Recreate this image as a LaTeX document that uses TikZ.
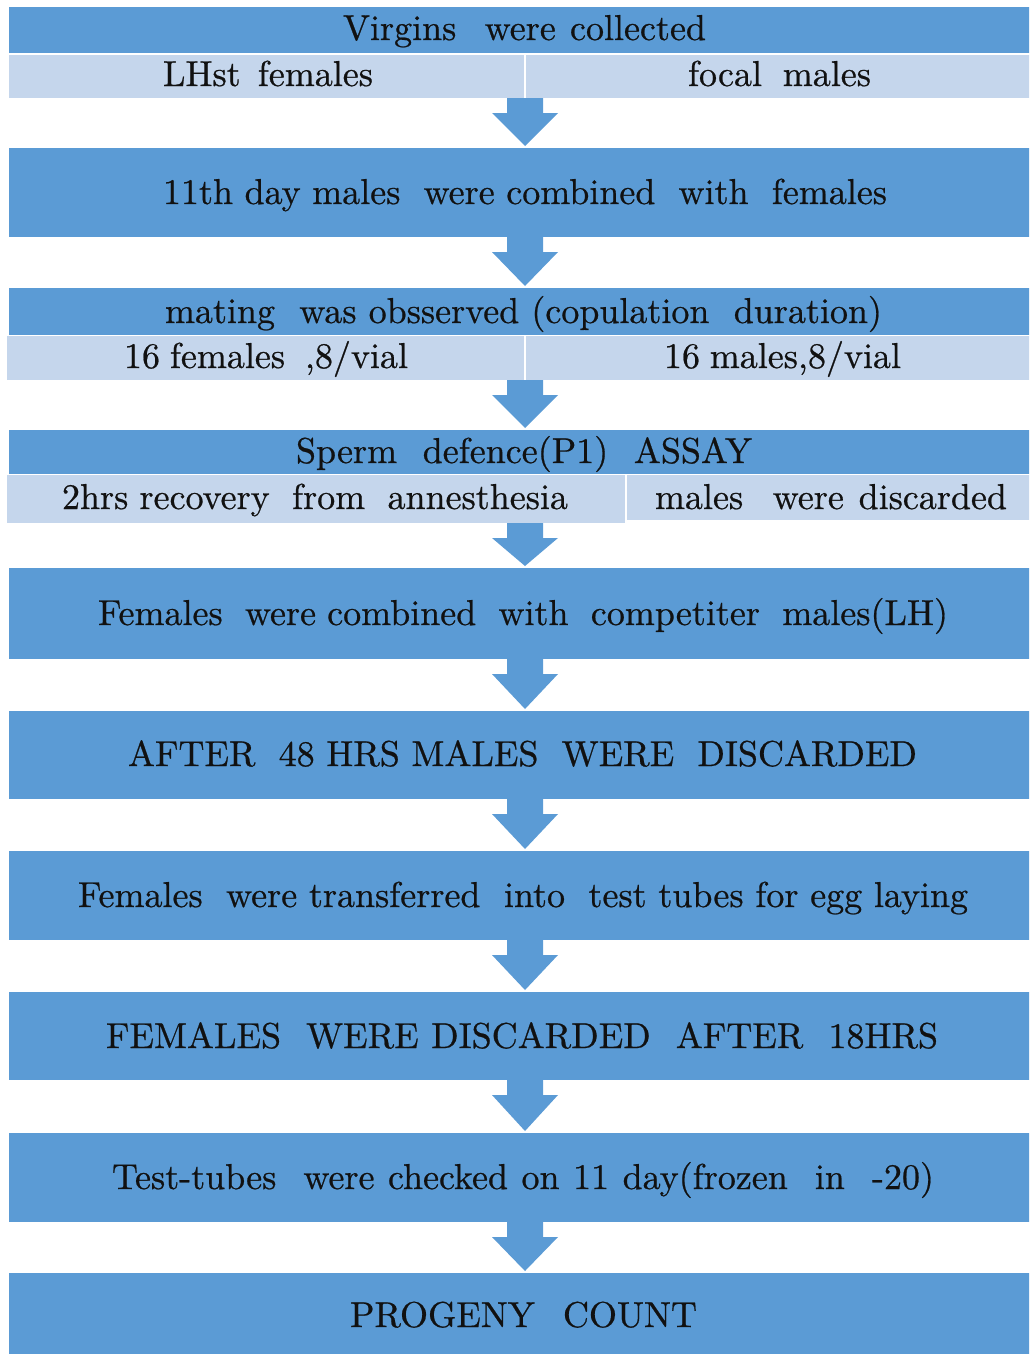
\documentclass[tikz,border=0pt]{standalone}
\usepackage{fontspec}
\newfontfamily\serifx{lmroman10-regular.otf}[FakeBold=0.6]
\usetikzlibrary{calc}
\definecolor{barblue}{RGB}{91,155,213}
\definecolor{rowblue}{RGB}{197,214,236}
\definecolor{txtcol}{RGB}{17,17,17}
\newcommand{\fitw}[2]{\makebox[#1pt][s]{#2}}
\newcommand{\flowarrow}[2]{%
  \fill[barblue] let \p1=(#1.south), \p2=(#2.north) in
    (\x2-18pt,\y1) -- (\x2+18pt,\y1) -- (\x2+18pt,\y1-15pt) -- (\x2+33pt,\y1-15pt)
    -- (\x2,\y2+2pt) -- (\x2-33pt,\y1-15pt) -- (\x2-18pt,\y1-15pt) -- cycle;}
\begin{document}
\begin{tikzpicture}[x=1pt,y=-1pt,
  bar/.style={fill=barblue, draw=none, inner sep=0pt, outer sep=0pt, anchor=north west, minimum width=1032pt, minimum height=#1pt},
  cell/.style={fill=rowblue, draw=none, inner sep=0pt, outer sep=0pt, anchor=north west},
  txt/.style={anchor=base, inner sep=0pt, outer sep=0pt, text=txtcol, font=\serifx\fontsize{36}{44}\selectfont}]
\useasboundingbox (0,0) rectangle (1029,1354);
\clip (0,0) rectangle (1029,1354);
% bars and cells
\node[bar=46] (b1) at (9,7) {};
\node[cell, minimum width=515pt, minimum height=43pt] (l1a) at (9,55) {};
\node[cell, minimum width=515pt, minimum height=43pt] (l1b) at (526,55) {};
\node[bar=89] (b2) at (9,148) {};
\node[bar=47] (b3) at (9,288) {};
\node[cell, minimum width=517pt, minimum height=44pt] (l3a) at (7,336) {};
\node[cell, minimum width=515pt, minimum height=44pt] (l3b) at (526,336) {};
\node[bar=44] (b4) at (9,430) {};
\node[cell, minimum width=618pt, minimum height=48pt] (l4a) at (7,475) {};
\node[cell, minimum width=414pt, minimum height=45pt] (l4b) at (627,475) {};
\node[bar=91] (b5) at (9,568) {};
\node[bar=88] (b6) at (9,711) {};
\node[bar=89] (b7) at (9,851) {};
\node[bar=88] (b8) at (9,992) {};
\node[bar=89] (b9) at (9,1133) {};
\node[bar=100] (b10) at (9,1273) {};
% arrows
\flowarrow{l1b}{b2}
\flowarrow{b2}{b3}
\flowarrow{l3b}{b4}
\flowarrow{l4a}{b5}
\flowarrow{b5}{b6}
\flowarrow{b6}{b7}
\flowarrow{b7}{b8}
\flowarrow{b8}{b9}
\flowarrow{b9}{b10}
% texts
\node[txt] (t1) at (524.5,40) {\fitw{363}{Virgins\ \ were collected}};
\node[txt] (t1a) at (268,86) {\fitw{210}{LHst females}};
\node[txt] (t1b) at (779.5,86) {\fitw{183}{focal\ \ males}};
\node[txt] (t2) at (525,204) {\fitw{724}{11th day males\ \ were combined\ \ with\ \ females}};
\node[txt] (t3) at (523.5,323) {\fitw{717}{mating\ \ was obsserved (copulation\ \ duration)}};
\node[txt] (t3a) at (266,368) {\fitw{284}{16 females\ \ ,8/vial}};
\node[txt] (t3b) at (782.5,368) {\fitw{237}{16 males,8/vial}};
\node[txt] (t4) at (524,463) {\fitw{456}{Sperm\ \ defence(P1)\ \ ASSAY}};
\node[txt] (t4a) at (315,509) {\fitw{506}{2hrs recovery\ \ from\ \ annesthesia}};
\node[txt] (t4b) at (831,509) {\fitw{352}{males\ \ were discarded}};
\node[txt] (t5) at (523,625) {\fitw{850}{Females\ \ were combined\ \ with\ \ competiter\ \ males(LH)}};
\node[txt] (t6) at (522.5,766) {\fitw{789}{AFTER\ \ 48 HRS MALES\ \ WERE\ \ DISCARDED}};
\node[txt] (t7) at (523,907) {\fitw{890}{Females\ \ were transferred\ \ into\ \ test tubes for egg laying}};
\node[txt] (t8) at (522,1048) {\fitw{832}{FEMALES\ \ WERE DISCARDED\ \ AFTER\ \ 18HRS}};
\node[txt] (t9) at (523,1189) {\fitw{822}{Test-tubes\ \ were checked on 11 day(frozen\ \ in\ \ -20)}};
\node[txt] (t10) at (523.5,1327) {\fitw{347}{PROGENY COUNT}};
\end{tikzpicture}
\end{document}
